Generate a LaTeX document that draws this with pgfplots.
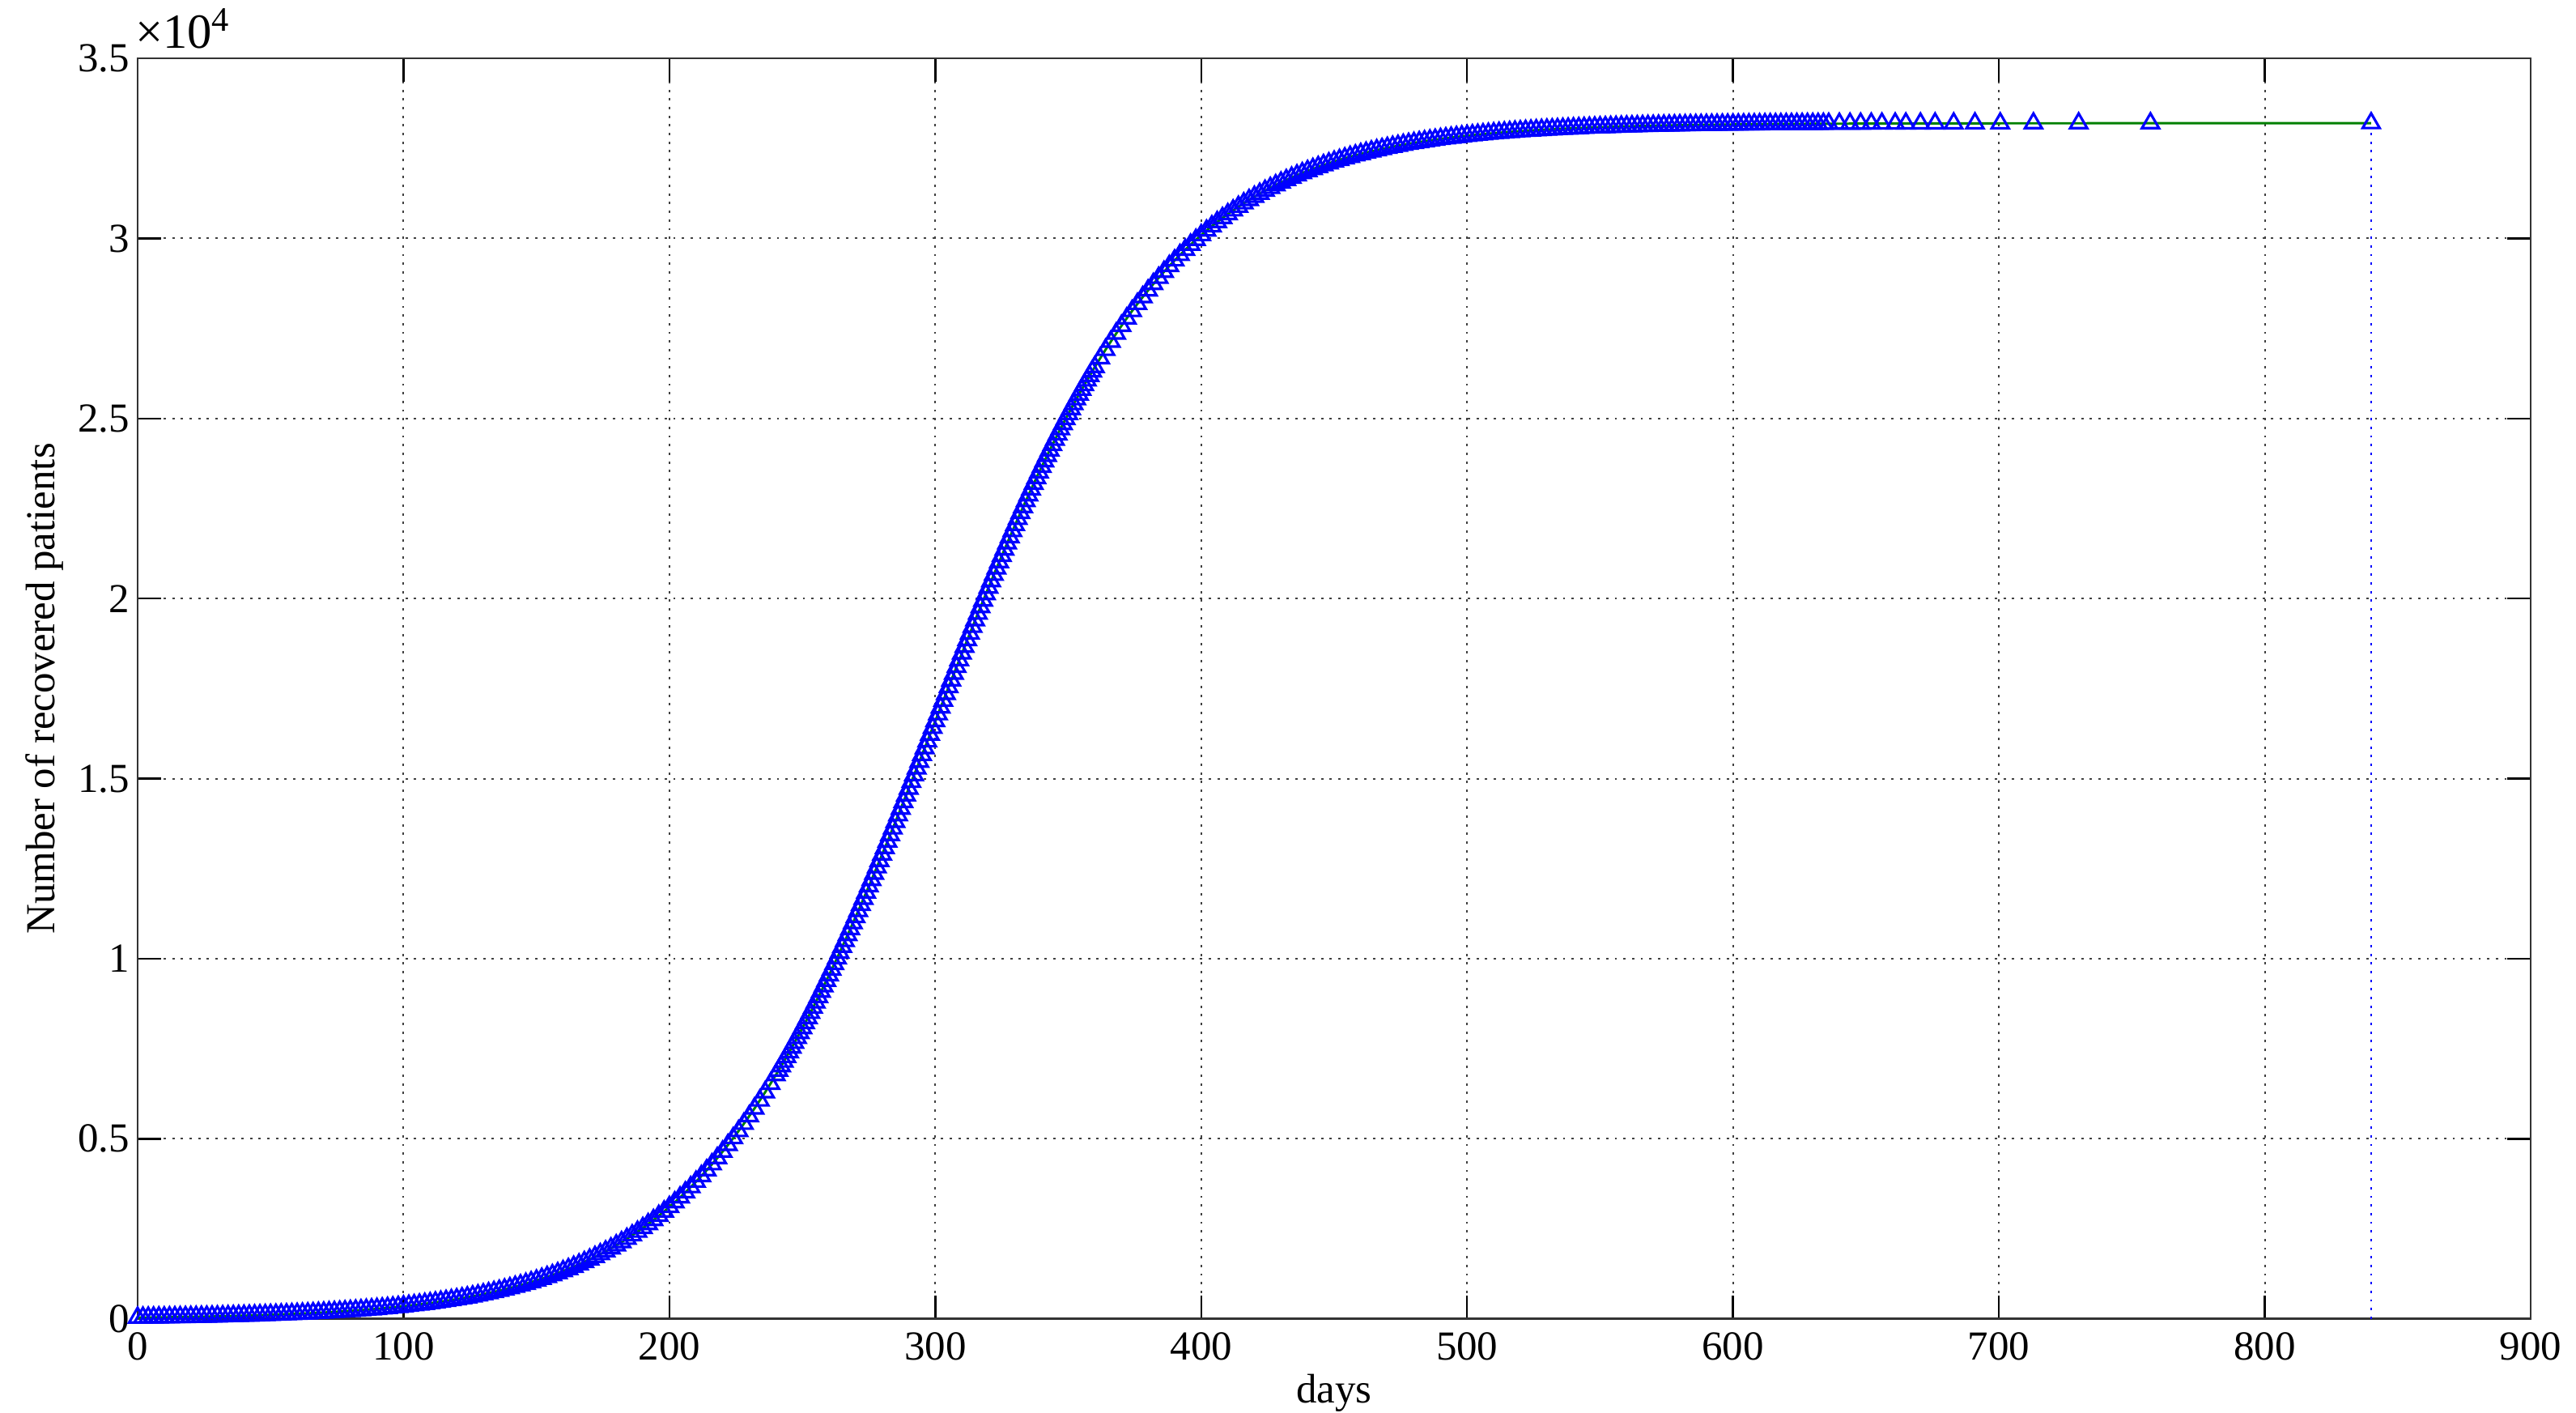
\documentclass[border=0pt]{standalone}
\usepackage{fontspec}
\setmainfont{Liberation Serif}
\usepackage{pgfplots}
\usepackage{pgfplotstable}
\pgfplotsset{compat=1.18}
\usetikzlibrary{calc}
\definecolor{mgreen}{rgb}{0,0.5,0}

% recovered patients vs days
\pgfplotstableread[row sep=\\]{
x y\\
0 36.6\\ 2 38.3\\ 4 40.0\\ 6 41.9\\ 8 43.8\\ 10 45.9\\ 12 48.0\\ 14 50.2\\ 16 52.6\\ 18 55.0\\
20 57.6\\ 22 60.2\\ 24 63.0\\ 26 65.9\\ 28 69.0\\ 30 72.2\\ 32 75.5\\ 34 79.0\\ 36 82.7\\ 38 86.5\\
40 90.5\\ 42 94.7\\ 44 99.1\\ 46 103.7\\ 48 108.5\\ 50 113.5\\ 52 118.8\\ 54 124.3\\ 56 130.0\\ 58 136.0\\
60 142.3\\ 62 148.9\\ 64 155.8\\ 66 163.0\\ 68 170.5\\ 70 178.4\\ 72 186.6\\ 74 195.2\\ 76 204.2\\ 78 213.7\\
80 223.5\\ 82 233.8\\ 84 244.6\\ 86 255.9\\ 88 267.7\\ 90 280.0\\ 92 292.9\\ 94 306.4\\ 96 320.5\\ 98 335.2\\
100 350.6\\ 102 366.7\\ 104 383.6\\ 106 401.2\\ 108 419.6\\ 110 438.8\\ 112 458.9\\ 114 479.9\\ 116 501.8\\ 118 524.8\\
120 548.7\\ 122 573.8\\ 124 600.0\\ 126 627.3\\ 128 655.9\\ 130 685.7\\ 132 716.9\\ 134 749.4\\ 136 783.4\\ 138 818.9\\
140 855.9\\ 142 894.6\\ 144 935.0\\ 146 977.1\\ 148 1021.1\\ 150 1067.0\\ 152 1114.9\\ 154 1164.9\\ 156 1217.0\\ 158 1271.4\\
160 1328.1\\ 162 1387.2\\ 164 1448.8\\ 166 1513.0\\ 168 1579.9\\ 170 1649.7\\ 172 1722.3\\ 174 1798.0\\ 176 1876.8\\ 178 1958.8\\
180 2044.2\\ 182 2133.1\\ 184 2225.5\\ 186 2321.6\\ 188 2421.6\\ 190 2525.5\\ 192 2633.5\\ 194 2745.7\\ 196 2862.2\\ 198 2983.2\\
200 3108.8\\ 202 3239.1\\ 204 3374.3\\ 206 3514.4\\ 208 3659.7\\ 210 3810.1\\ 212 3966.0\\ 214 4127.3\\ 216 4294.1\\ 218 4466.8\\
220 4645.2\\ 222 4829.6\\ 224 5020.0\\ 226 5216.5\\ 228 5419.2\\ 230 5628.2\\ 232 5843.6\\ 234 6065.5\\ 236 6293.8\\ 238 6528.6\\
240 6770.0\\ 242 7018.0\\ 244 7272.6\\ 246 7533.7\\ 248 7801.4\\ 250 8075.6\\ 252 8356.3\\ 254 8643.4\\ 256 8936.7\\ 258 9236.4\\
260 9542.1\\ 262 9853.7\\ 264 10171.2\\ 266 10494.2\\ 268 10822.8\\ 270 11156.5\\ 272 11495.3\\ 274 11838.8\\ 276 12186.8\\ 278 12539.3\\
280 12895.3\\ 282 13255.0\\ 284 13618.2\\ 286 13984.3\\ 288 14352.9\\ 290 14723.9\\ 292 15096.8\\ 294 15471.2\\ 296 15846.9\\ 298 16223.2\\
300 16600.0\\ 302 16976.8\\ 304 17353.1\\ 306 17728.8\\ 308 18103.2\\ 310 18476.1\\ 312 18847.1\\ 314 19215.7\\ 316 19581.8\\ 318 19945.0\\
320 20304.7\\ 322 20660.7\\ 324 21013.2\\ 326 21361.2\\ 328 21704.7\\ 330 22043.5\\ 332 22377.2\\ 334 22705.8\\ 336 23028.8\\ 338 23346.3\\
340 23657.9\\ 342 23963.6\\ 344 24263.3\\ 346 24556.6\\ 348 24843.7\\ 350 25124.4\\ 352 25398.6\\ 354 25666.3\\ 356 25927.4\\ 358 26182.0\\
360 26430.0\\ 362 26671.4\\ 364 26906.2\\ 366 27134.5\\ 368 27356.4\\ 370 27571.8\\ 372 27780.8\\ 374 27983.5\\ 376 28180.0\\ 378 28370.4\\
380 28554.8\\ 382 28733.2\\ 384 28905.9\\ 386 29072.7\\ 388 29234.0\\ 390 29389.9\\ 392 29540.3\\ 394 29685.6\\ 396 29825.7\\ 398 29960.9\\
400 30091.2\\ 402 30216.8\\ 404 30337.8\\ 406 30454.3\\ 408 30566.5\\ 410 30674.5\\ 412 30778.4\\ 414 30878.4\\ 416 30974.5\\ 418 31066.9\\
420 31155.8\\ 422 31241.2\\ 424 31323.2\\ 426 31402.0\\ 428 31477.7\\ 430 31550.3\\ 432 31620.1\\ 434 31687.0\\ 436 31751.2\\ 438 31812.8\\
440 31871.9\\ 442 31928.6\\ 444 31983.0\\ 446 32035.1\\ 448 32085.1\\ 450 32133.0\\ 452 32178.9\\ 454 32222.9\\ 456 32265.0\\ 458 32305.4\\
460 32344.1\\ 462 32381.1\\ 464 32416.6\\ 466 32450.6\\ 468 32483.1\\ 470 32514.3\\ 472 32544.1\\ 474 32572.7\\ 476 32600.0\\ 478 32626.2\\
480 32651.3\\ 482 32675.2\\ 484 32698.2\\ 486 32720.1\\ 488 32741.1\\ 490 32761.2\\ 492 32780.4\\ 494 32798.8\\ 496 32816.4\\ 498 32833.3\\
500 32849.4\\ 502 32864.8\\ 504 32879.5\\ 506 32893.6\\ 508 32907.1\\ 510 32920.0\\ 512 32932.3\\ 514 32944.1\\ 516 32955.4\\ 518 32966.2\\
520 32976.5\\ 522 32986.3\\ 524 32995.8\\ 526 33004.8\\ 528 33013.4\\ 530 33021.6\\ 532 33029.5\\ 534 33037.0\\ 536 33044.2\\ 538 33051.1\\
540 33057.7\\ 542 33064.0\\ 544 33070.0\\ 546 33075.7\\ 548 33081.2\\ 550 33086.5\\ 552 33091.5\\ 554 33096.3\\ 556 33100.9\\ 558 33105.3\\
560 33109.5\\ 562 33113.5\\ 564 33117.3\\ 566 33121.0\\ 568 33124.5\\ 570 33127.8\\ 572 33131.0\\ 574 33134.1\\ 576 33137.0\\ 578 33139.8\\
580 33142.4\\ 582 33145.0\\ 584 33147.4\\ 586 33149.8\\ 588 33152.0\\ 590 33154.1\\ 592 33156.2\\ 594 33158.1\\ 596 33160.0\\ 598 33161.7\\
600 33163.4\\ 602 33165.0\\ 604 33166.5\\ 606 33168.0\\ 608 33169.4\\ 610 33170.7\\ 612 33172.0\\ 614 33173.2\\ 616 33174.4\\ 618 33175.5\\
620 33176.6\\ 622 33177.6\\ 624 33178.5\\ 626 33179.4\\ 628 33180.3\\ 630 33181.1\\ 632 33181.9\\ 634 33182.6\\ 636 33183.3\\
640 33184.5\\ 644 33185.7\\ 648 33186.8\\ 652 33187.8\\ 656 33188.7\\ 661 33189.7\\ 665 33190.4\\ 670.5 33191.3\\ 676 33192.1\\
683 33193.0\\ 691 33193.9\\ 700.5 33194.8\\ 713 33195.7\\ 730 33196.7\\ 757 33197.8\\ 840 33199.5\\
}\recovered

% extra solver steps in the steep part (odd days)
\pgfplotstableread[row sep=\\]{
x y\\
241 6893.1\\ 243 7144.4\\ 245 7402.3\\ 247 7666.7\\ 249 7937.6\\ 251 8215.1\\ 253 8498.9\\ 255 8789.3\\ 257 9085.7\\ 259 9388.3\\
261 9697.1\\ 263 10011.7\\ 265 10331.9\\ 267 10657.8\\ 269 10988.9\\ 271 11325.3\\ 273 11666.3\\ 275 12012.2\\ 277 12362.4\\ 279 12716.7\\
281 13074.7\\ 283 13436.2\\ 285 13800.9\\ 287 14168.2\\ 289 14538.1\\ 291 14910.2\\ 293 15283.9\\ 295 15659.0\\ 297 16035.0\\ 299 16411.6\\
301 16788.4\\ 303 17165.0\\ 305 17541.0\\ 307 17916.1\\ 309 18289.8\\ 311 18661.9\\ 313 19031.8\\ 315 19399.1\\ 317 19763.8\\ 319 20125.3\\
321 20483.3\\ 323 20837.6\\ 325 21187.8\\ 327 21533.7\\ 329 21874.7\\ 331 22211.1\\ 333 22542.2\\ 335 22868.1\\ 337 23188.3\\ 339 23502.9\\
341 23811.7\\ 343 24114.3\\ 345 24410.7\\ 347 24701.1\\ 349 24984.9\\ 351 25262.4\\ 353 25533.3\\ 355 25797.7\\ 357 26055.6\\ 359 26306.9\\
}\recoveredmid

\begin{document}
\begin{tikzpicture}
\begin{axis}[
  scale only axis,
  width=609.5pt, height=321pt,
  xmin=0, xmax=900, ymin=0, ymax=35000,
  xtick={0,100,...,900},
  xticklabels={0,100,200,300,400,500,600,700,800,900},
  ytick={0,5000,...,35000},
  yticklabels={0,0.5,1,1.5,2,2.5,3,3.5},
  scaled y ticks=false, scaled x ticks=false,
  font=\fontsize{10.5}{12}\selectfont,
  tick label style={font=\fontsize{10.5}{12}\selectfont},
  tick align=inside,
  major tick length=6pt,
  tick style={black, line width=0.5pt},
  axis line style={black!80, line width=0.6pt},
  grid=major,
  grid style={black!75, line width=0.4pt, dash pattern=on 0.6pt off 1.6pt},
  xlabel={days},
  ylabel={Number of recovered patients},
  every axis x label/.style={at={(rel axis cs:0.5,0)}, yshift=-18.8pt, anchor=center},
  every axis y label/.style={at={(rel axis cs:0,0.5)}, xshift=-23.7pt, rotate=90, anchor=center},
  yticklabel style={xshift=1.5pt},
  clip=false,
]
\addplot[only marks, blue, mark=triangle, mark size=2.5pt, mark options={line width=0.65pt}] table {\recovered};
\addplot[only marks, blue, mark=triangle, mark size=2.5pt, mark options={line width=0.65pt}] table {\recoveredmid};
\addplot[mgreen, line width=0.6pt] table {\recovered};
\addplot[blue, line width=0.5pt, dash pattern=on 0.6pt off 1.6pt] coordinates {(840,0) (840,33050)};
\node[anchor=south west, inner sep=0pt, xshift=-0.8pt, yshift=2.2pt, font=\fontsize{12.5}{14}\selectfont] at (rel axis cs:0,1) {×10\textsuperscript{4}};
\coordinate (bl) at (rel axis cs:0,0);
\coordinate (tr) at (rel axis cs:1,1);
\end{axis}
\pgfresetboundingbox
\path ($(bl)+(-35.05pt,-23.9pt)$) rectangle ($(tr)+(11.55pt,14.85pt)$);
\end{tikzpicture}
\end{document}
